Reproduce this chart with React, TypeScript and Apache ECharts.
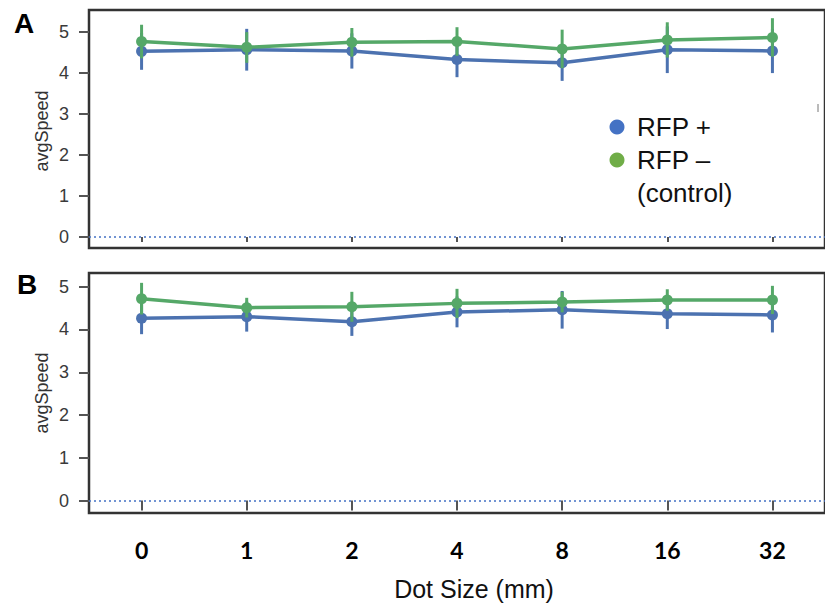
import React, { useEffect, useRef } from "react";
import * as echarts from "echarts";

const categories = ["0", "1", "2", "4", "8", "16", "32"];
const yTicks = [0, 1, 2, 3, 4, 5];

const aBlueMean = [4.53, 4.57, 4.54, 4.33, 4.25, 4.57, 4.54];
const aBlueLow = [4.08, 4.06, 4.11, 3.9, 3.81, 4.0, 4.0];
const aBlueHigh = [4.98, 5.08, 4.97, 4.76, 4.69, 5.14, 5.08];
const aGreenMean = [4.77, 4.63, 4.75, 4.77, 4.59, 4.81, 4.87];
const aGreenLow = [4.36, 4.25, 4.4, 4.42, 4.12, 4.38, 4.4];
const aGreenHigh = [5.18, 5.0, 5.1, 5.12, 5.06, 5.24, 5.34];

const bBlueMean = [4.26, 4.3, 4.18, 4.41, 4.46, 4.37, 4.34];
const bBlueLow = [3.89, 3.95, 3.85, 4.05, 4.02, 4.01, 3.93];
const bBlueHigh = [4.63, 4.65, 4.51, 4.77, 4.9, 4.73, 4.75];
const bGreenMean = [4.72, 4.51, 4.53, 4.61, 4.64, 4.69, 4.69];
const bGreenLow = [4.35, 4.28, 4.18, 4.27, 4.4, 4.44, 4.36];
const bGreenHigh = [5.09, 4.74, 4.88, 4.95, 4.88, 4.94, 5.02];

const BLUE = "#4c72b0";
const GREEN = "#55a868";
const ARIAL = "'Liberation Sans', Arial, sans-serif";

function errSeries(idx: number, low: number[], high: number[], color: string, z: number) {
  return {
    type: "custom",
    xAxisIndex: idx,
    yAxisIndex: idx,
    z,
    silent: true,
    encode: { x: 0, y: [1, 2] },
    data: categories.map((_, i) => [i, low[i], high[i]]),
    renderItem: (_p: any, api: any) => {
      const i = api.value(0);
      const lo = api.coord([i, api.value(1)]);
      const hi = api.coord([i, api.value(2)]);
      return {
        type: "line",
        shape: { x1: lo[0], y1: lo[1], x2: hi[0], y2: hi[1] },
        style: { stroke: color, lineWidth: 3 },
      };
    },
  };
}

function lineSeries(idx: number, data: number[], color: string, z: number, withZero: boolean) {
  const s: any = {
    type: "line",
    xAxisIndex: idx,
    yAxisIndex: idx,
    z,
    data,
    symbol: "circle",
    symbolSize: 11,
    itemStyle: { color },
    lineStyle: { color, width: 3.5 },
  };
  if (withZero) {
    s.markLine = {
      silent: true,
      symbol: ["none", "none"],
      label: { show: false },
      lineStyle: { color: "#4472c4", type: [2, 3], width: 1.5 },
      data: [{ yAxis: 0 }],
    };
  }
  return s;
}

function yAxis(idx: number, min: number, max: number) {
  return {
    type: "value",
    gridIndex: idx,
    min,
    max,
    splitLine: { show: false },
    axisLine: { show: false },
    axisTick: {
      show: true,
      length: 10,
      lineStyle: { color: "#555", width: 2 },
      customValues: yTicks,
    },
    axisLabel: {
      color: "#3a3a3a",
      fontSize: 18,
      fontFamily: ARIAL,
      margin: 20,
      customValues: yTicks,
    },
  };
}

export default function App() {
  const ref = useRef<HTMLDivElement>(null);
  useEffect(() => {
    if (!ref.current) return;
    const chart = echarts.init(ref.current, null, { renderer: "svg" });
    const gridW = 744;
    chart.setOption({
      animation: false,
      backgroundColor: "#ffffff",
      grid: [
        { left: 89, top: 10, width: gridW, height: 238, show: true, borderColor: "#333", borderWidth: 2.5, backgroundColor: "transparent" },
        { left: 89, top: 273, width: gridW, height: 240, show: true, borderColor: "#333", borderWidth: 2.5, backgroundColor: "transparent" },
      ],
      xAxis: [
        {
          type: "category",
          gridIndex: 0,
          data: categories,
          axisLine: { show: false },
          axisTick: { show: true, alignWithLabel: true, length: 5, lineStyle: { color: "#555", width: 2 } },
          axisLabel: { show: false },
          splitLine: { show: false },
        },
        {
          type: "category",
          gridIndex: 1,
          data: categories,
          axisLine: { show: false },
          axisTick: { show: true, alignWithLabel: true, length: 10, lineStyle: { color: "#555", width: 2 } },
          axisLabel: { color: "#000", fontSize: 23, fontFamily: "Lato, sans-serif", fontWeight: "bold", margin: 25 },
          splitLine: { show: false },
        },
      ],
      yAxis: [yAxis(0, -0.27, 5.54), yAxis(1, -0.29, 5.32)],
      series: [
        lineSeries(0, aBlueMean, BLUE, 2, true),
        errSeries(0, aBlueLow, aBlueHigh, BLUE, 2),
        lineSeries(0, aGreenMean, GREEN, 3, false),
        errSeries(0, aGreenLow, aGreenHigh, GREEN, 3),
        lineSeries(1, bBlueMean, BLUE, 2, true),
        errSeries(1, bBlueLow, bBlueHigh, BLUE, 2),
        lineSeries(1, bGreenMean, GREEN, 3, false),
        errSeries(1, bGreenLow, bGreenHigh, GREEN, 3),
      ],
      graphic: [
        { type: "text", x: 24, y: 23, style: { text: "A", fontSize: 28, fontWeight: "bold", fontFamily: ARIAL, fill: "#000", align: "center", verticalAlign: "middle" } },
        { type: "text", x: 27, y: 284, style: { text: "B", fontSize: 28, fontWeight: "bold", fontFamily: ARIAL, fill: "#000", align: "center", verticalAlign: "middle" } },
        { type: "text", x: 42, y: 131, rotation: Math.PI / 2, style: { text: "avgSpeed", fontSize: 18, fontFamily: ARIAL, fill: "#333", align: "center", verticalAlign: "middle" } },
        { type: "text", x: 42, y: 393, rotation: Math.PI / 2, style: { text: "avgSpeed", fontSize: 18, fontFamily: ARIAL, fill: "#333", align: "center", verticalAlign: "middle" } },
        { type: "text", x: 474, y: 589, style: { text: "Dot Size (mm)", fontSize: 25, fontFamily: ARIAL, fill: "#111", align: "center", verticalAlign: "middle" } },
        { type: "circle", shape: { cx: 617, cy: 127, r: 7.5 }, style: { fill: "#4472c4" } },
        { type: "circle", shape: { cx: 617, cy: 160, r: 7.5 }, style: { fill: "#70ad47" } },
        { type: "text", x: 637, y: 127, style: { text: "RFP +", fontSize: 26, fontFamily: ARIAL, fill: "#111", align: "left", verticalAlign: "middle" } },
        { type: "text", x: 637, y: 160, style: { text: "RFP \u2013", fontSize: 26, fontFamily: ARIAL, fill: "#111", align: "left", verticalAlign: "middle" } },
        { type: "text", x: 637, y: 193, style: { text: "(control)", fontSize: 26, fontFamily: ARIAL, fill: "#111", align: "left", verticalAlign: "middle" } },
        { type: "line", shape: { x1: 818, y1: 104, x2: 818, y2: 112 }, style: { stroke: "#777", lineWidth: 1 } },
      ],
    });
    return () => chart.dispose();
  }, []);
  return <div ref={ref} style={{ position: "absolute", left: 0, top: 0, width: 825, height: 606 }} />;
}
